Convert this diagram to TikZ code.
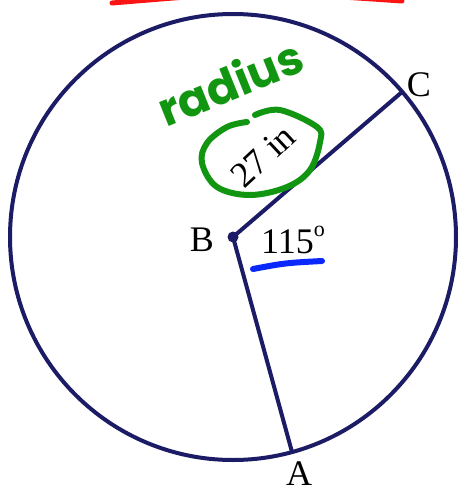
\documentclass[tikz,border=0pt]{standalone}
\usepackage{fontspec}
\setmainfont{Liberation Serif}
\newfontfamily\handfont{Poppins}
\begin{document}
\begin{tikzpicture}[x=1pt,y=-1pt]
\definecolor{navy}{RGB}{28,28,102}
\definecolor{ink}{RGB}{18,150,18}
\definecolor{pen}{RGB}{10,40,250}
\definecolor{marker}{RGB}{250,20,20}
\tikzset{
  geom/.style={draw=navy, line width=4pt},
  lbl/.style={font=\fontsize{36}{40}\selectfont, inner sep=0pt},
  hand/.style={draw=ink, line width=6pt, line cap=round, line join=round},
}
\useasboundingbox (0,0) rectangle (460,490);
\fill[white] (0,0) rectangle (460,490);
% red marker at top
\draw[marker, line width=5pt, line cap=round] (112,3) .. controls (256,-9) .. (402,1);
% circle and radii
\coordinate (B) at (233,237);
\coordinate (C) at (402,92);
\coordinate (A) at (292,452);
\draw[geom] (B) circle[radius=223pt];
\draw[geom, line join=round] (C) -- (B) -- (A);
\fill[navy] (B) circle[radius=5.5pt];
% labels
\node[lbl] (Blbl) at (202,240) {B};
\node[lbl] (Clbl) at (419,85) {C};
\node[lbl] (Albl) at (299,474) {A};
\node[lbl] (angle) at (293,240) {115\raisebox{0.45em}{\fontsize{22}{24}\selectfont o}};
\node[lbl, rotate=43] (len) at (263,156) {27 in};
% green annotations
\node[text=ink, rotate=22, inner sep=0pt, font=\handfont\bfseries\fontsize{46}{46}\selectfont] (rad) at (230,82) {radius};
\draw[hand] plot[smooth, tension=0.6] coordinates {(255,115) (280,110) (317,127) (320,142) (310,170) (287,187) (250,195) (217,187) (202,163) (207,143) (227,127) (247,122)};
% blue underline
\draw[pen, line width=6pt, line cap=round] (253,269) .. controls (285,263) .. (322,261);
\end{tikzpicture}
\end{document}
